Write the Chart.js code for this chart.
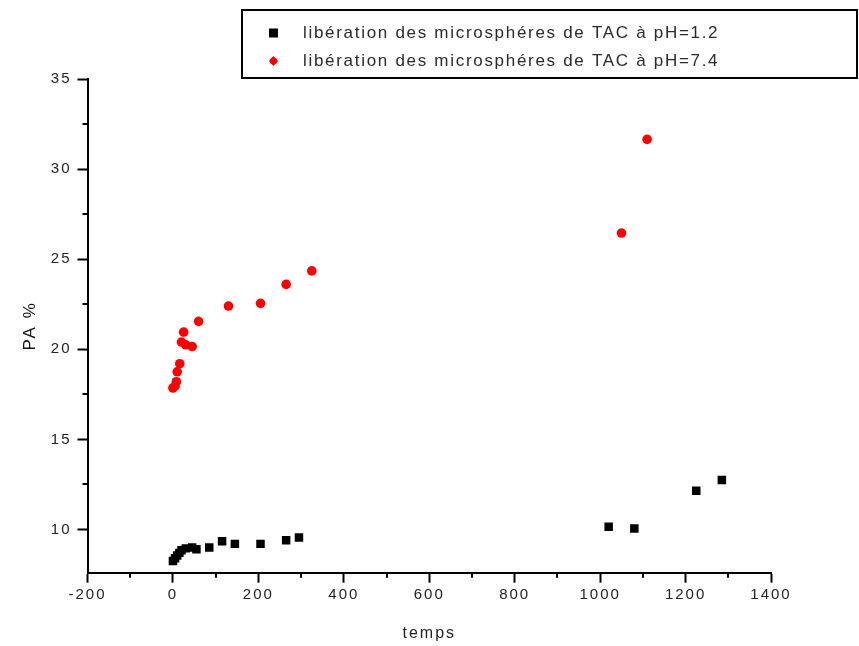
<!DOCTYPE html>
<html>
<head>
<meta charset="utf-8">
<script src="https://cdn.jsdelivr.net/npm/chart.js@4/dist/chart.umd.min.js"></script>
<style>
  html, body { margin: 0; padding: 0; background: #fff; }
  #c { display: block; }
</style>
</head>
<body>
<canvas id="c" width="859" height="646"></canvas>
<script>
// ---- data ----
const labelAcid = "libération des microsphéres de TAC à pH=1.2";
const labelBasic = "libération des microsphéres de TAC à pH=7.4";

const timeAcid = [0, 5, 10, 15, 20, 30, 45, 55, 85, 115, 145, 205, 265, 295, 1020, 1080, 1225, 1285];
const paAcid   = [8.25, 8.4, 8.55, 8.7, 8.85, 8.95, 9.0, 8.9, 9.0, 9.35, 9.2, 9.2, 9.4, 9.55, 10.15, 10.05, 12.15, 12.75];

const timeBasic = [0, 5, 8, 10, 16, 20, 25, 30, 45, 60, 130, 205, 265, 325, 1050, 1110];
const paBasic   = [17.85, 17.95, 18.2, 18.75, 19.2, 20.4, 20.95, 20.25, 20.15, 21.55, 22.4, 22.55, 23.6, 24.35, 26.45, 31.65];

const xTicks = [-200, 0, 200, 400, 600, 800, 1000, 1200, 1400];
const yTicks = [10, 15, 20, 25, 30, 35];
const xTitle = "temps";
const yTitle = "PA %";

const toPoints = (xs, ys) => xs.map((x, i) => ({ x: x, y: ys[i] }));
const mids = arr => arr.slice(1).map((v, i) => (v + arr[i]) / 2);

const FONT = "'Liberation Sans', Arial, sans-serif";

const spacingPlugin = {
  id: 'spacing',
  beforeDraw(chart) {
    chart.ctx.letterSpacing = '2px';
  }
};

const minorTicks = {
  id: 'minorTicks',
  afterDraw(chart) {
    const ctx = chart.ctx;
    const xs = chart.scales.x, ys = chart.scales.y;
    const area = chart.chartArea;
    ctx.save();
    ctx.strokeStyle = '#000';
    ctx.lineWidth = 2;
    ctx.beginPath();
    mids(xTicks).forEach(v => {
      const px = Math.round(xs.getPixelForValue(v));
      ctx.moveTo(px, area.bottom);
      ctx.lineTo(px, area.bottom + 5);
    });
    mids(yTicks).forEach(v => {
      const py = Math.round(ys.getPixelForValue(v));
      ctx.moveTo(area.left, py);
      ctx.lineTo(area.left - 5, py);
    });
    ctx.stroke();
    ctx.restore();
  }
};

const boxLegend = {
  id: 'boxLegend',
  afterDraw(chart) {
    const ctx = chart.ctx;
    ctx.save();
    ctx.letterSpacing = '1.7px';
    ctx.strokeStyle = '#000';
    ctx.lineWidth = 2;
    ctx.strokeRect(242, 10, 615, 68);
    const rows = [33, 61];
    chart.data.datasets.forEach((ds, i) => {
      const cy = rows[i];
      ctx.fillStyle = ds.backgroundColor;
      if (ds.pointStyle === 'rect') {
        ctx.fillRect(269, cy - 4.5, 9, 9);
      } else {
        ctx.beginPath();
        ctx.moveTo(273.5, cy - 5);
        ctx.lineTo(278, cy);
        ctx.lineTo(273.5, cy + 5);
        ctx.lineTo(269, cy);
        ctx.closePath();
        ctx.fill();
        ctx.beginPath();
        ctx.arc(273.5, cy, 3.6, 0, Math.PI * 2);
        ctx.fill();
      }
      ctx.fillStyle = '#2a2a2a';
      ctx.font = '17px ' + FONT;
      ctx.textBaseline = 'middle';
      ctx.textAlign = 'left';
      ctx.fillText(ds.label, 303, cy);
    });
    ctx.restore();
  }
};

new Chart(document.getElementById('c'), {
  type: 'scatter',
  data: {
    datasets: [
      {
        label: labelAcid,
        data: toPoints(timeAcid, paAcid),
        pointStyle: 'rect',
        pointRadius: 6,
        backgroundColor: '#000000',
        borderColor: '#000000',
        borderWidth: 0
      },
      {
        label: labelBasic,
        data: toPoints(timeBasic, paBasic),
        pointStyle: 'circle',
        pointRadius: 4.8,
        backgroundColor: '#ff0000',
        borderColor: '#ff0000',
        borderWidth: 0
      }
    ]
  },
  options: {
    responsive: false,
    animation: false,
    devicePixelRatio: 1,
    layout: { padding: { top: 79, right: 88, left: 0, bottom: 0 } },
    plugins: {
      legend: { display: false },
      tooltip: { enabled: false },
      title: { display: false }
    },
    scales: {
      x: {
        type: 'linear',
        min: -200,
        max: 1400,
        afterBuildTicks(scale) { scale.ticks = xTicks.map(v => ({ value: v })); },
        afterFit(scale) { scale.height = 73.3; },
        border: { display: true, color: '#000', width: 2 },
        grid: { drawOnChartArea: false, drawTicks: true, tickLength: 10, tickWidth: 2, tickColor: '#000' },
        ticks: { color: '#222', padding: 3, font: { family: FONT, size: 15 }, maxRotation: 0, autoSkip: false, callback: v => String(v) },
        title: { display: true, text: xTitle, color: '#222', font: { family: FONT, size: 16 }, padding: { top: 0, bottom: 3 } }
      },
      y: {
        type: 'linear',
        min: 7.6,
        max: 35,
        afterBuildTicks(scale) { scale.ticks = yTicks.map(v => ({ value: v })); },
        afterFit(scale) { scale.width = 87.5; },
        border: { display: true, color: '#000', width: 2 },
        grid: { drawOnChartArea: false, drawTicks: true, tickLength: 10, tickWidth: 2, tickColor: '#000' },
        ticks: { color: '#222', padding: 6, font: { family: FONT, size: 15 }, autoSkip: false, callback: v => String(v) },
        title: { display: true, text: yTitle, color: '#111', font: { family: FONT, size: 17 }, padding: { top: 20, bottom: 0 } }
      }
    }
  },
  plugins: [spacingPlugin, minorTicks, boxLegend]
});
</script>
</body>
</html>
